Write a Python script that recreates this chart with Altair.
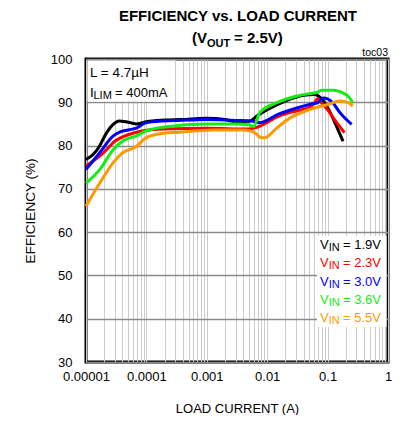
import altair as alt
import pandas as pd

# ---------------- data ----------------
series_names = ["1.9V", "2.3V", "3.0V", "3.6V", "5.5V"]
series_colors = ["#000000", "#ff0000", "#0000ff", "#11ee11", "#ff9900"]

x_19 = [1e-5, 1.7e-5, 2e-5, 3e-5, 3.5e-5, 5e-5, 7e-5, 1e-4, 2e-4, 5e-4, 1e-3, 2e-3, 3e-3, 5e-3, 7e-3, 0.01, 0.02, 0.04, 0.06, 0.08, 0.1, 0.13, 0.18]
y_19 = [76.8, 80.0, 82.0, 85.2, 85.7, 85.4, 85.0, 85.5, 85.9, 86.1, 86.3, 86.0, 85.5, 85.6, 87.0, 88.3, 90.3, 91.6, 91.8, 90.8, 88.8, 85.5, 81.0]

x_23 = [1e-5, 2e-5, 3e-5, 5e-5, 8e-5, 2e-4, 1e-3, 5e-3, 7e-3, 0.015, 0.03, 0.05, 0.06, 0.068, 0.08, 0.1, 0.13, 0.19]
y_23 = [75.3, 78.5, 81.0, 82.5, 83.3, 83.8, 84.0, 83.8, 84.3, 86.7, 88.0, 88.8, 89.8, 90.8, 89.8, 88.3, 86.0, 83.0]

x_30 = [1e-5, 1.7e-5, 2.8e-5, 3.6e-5, 5e-5, 7e-5, 9.5e-5, 2e-4, 5e-4, 1e-3, 3e-3, 5.5e-3, 7.5e-3, 0.015, 0.05, 0.07, 0.085, 0.1, 0.12, 0.16, 0.25]
y_30 = [74.5, 78.4, 82.2, 83.1, 83.6, 84.1, 85.2, 85.7, 85.9, 86.0, 85.8, 85.7, 85.3, 87.2, 89.5, 90.0, 91.0, 90.8, 90.0, 87.6, 84.9]

x_36 = [1e-5, 1.7e-5, 2.8e-5, 4e-5, 7e-5, 9.5e-5, 2e-4, 1e-3, 3e-3, 5e-3, 6e-3, 7.5e-3, 0.0145, 0.03, 0.05, 0.065, 0.08, 0.12, 0.2, 0.25, 0.26]
y_36 = [71.3, 74.5, 79.0, 81.0, 82.3, 83.3, 84.3, 85.0, 85.0, 84.8, 84.4, 87.6, 89.9, 91.4, 92.0, 92.2, 92.8, 92.8, 91.8, 90.3, 89.7]

x_55 = [1e-5, 1.7e-5, 2.8e-5, 4e-5, 7e-5, 9e-5, 1.5e-4, 3.5e-4, 1.3e-3, 4e-3, 5.5e-3, 6.2e-3, 8e-3, 9e-3, 0.0145, 0.024, 0.05, 0.1, 0.16, 0.22, 0.26]
y_55 = [66.0, 71.4, 76.0, 78.3, 79.9, 81.4, 82.6, 83.1, 83.6, 83.6, 83.3, 83.0, 81.8, 81.8, 84.1, 86.4, 88.3, 89.5, 90.3, 89.9, 89.1]

series_x = [x_19, x_23, x_30, x_36, x_55]
series_y = [y_19, y_23, y_30, y_36, y_55]

x_decades = [-5, -4, -3, -2, -1, 0]
x_tick_labels = ["0.00001", "0.0001", "0.001", "0.01", "0.1", "1"]
y_ticks = [30, 40, 50, 60, 70, 80, 90, 100]

FONT = "Liberation Sans, Arial"

# minor + major log ticks
x_grid = []
for k in x_decades[:-1]:
    for m in range(1, 10):
        x_grid.append(float(f"{m}e{k}"))
x_grid.append(1.0)

label_arr = "[" + ",".join(f"'{s}'" for s in x_tick_labels) + "]"
label_expr = (
    "abs(log(datum.value)/LN10 - round(log(datum.value)/LN10)) < 1e-6 ? "
    f"{label_arr}[round(log(datum.value)/LN10) + 5] : ''"
)

W, H = 302, 303

xscale = alt.Scale(type="log", domain=[1e-5, 1])
yscale = alt.Scale(domain=[30, 100])

x_axis = alt.Axis(
    values=x_grid, labelExpr=label_expr, grid=True, gridColor="#cccccc", gridWidth=1,
    ticks=False, domain=False, labelFont=FONT, labelFontSize=13, labelColor="black",
    labelPadding=8, labelFlush=False, labelOverlap=False,
    title="LOAD CURRENT (A)", titleFont=FONT, titleFontSize=13, titleFontWeight="normal",
    titleColor="black", titleY=46, titleBaseline="middle",
)
y_axis = alt.Axis(
    values=y_ticks, grid=True, gridColor="#8a8a8a", gridWidth=1.6,
    ticks=False, domain=False, labelFont=FONT, labelFontSize=13, labelColor="black",
    labelPadding=14,
    title="EFFICIENCY (%)", titleFont=FONT, titleFontSize=13.5, titleFontWeight="normal",
    titleColor="black", titleX=-56, titleY=H / 2, titleBaseline="middle", titleAngle=270,
)

frames = []
for name, xs, ys in zip(series_names, series_x, series_y):
    frames.append(pd.DataFrame({"current": xs, "eff": ys, "vin": name}))
df = pd.concat(frames, ignore_index=True)

dummy = pd.DataFrame({"a": [0]})

# axes carrier (invisible points) so grid is drawn
base = alt.Chart(df).mark_point(opacity=0).encode(
    x=alt.X("current:Q", scale=xscale, axis=x_axis),
    y=alt.Y("eff:Q", scale=yscale, axis=y_axis),
)

layers = [base]

# white boxes behind annotation and legend
layers.append(
    alt.Chart(dummy).mark_rect(color="white").encode(
        x=alt.value(1.5), x2=alt.value(89), y=alt.value(1.5), y2=alt.value(42.5)
    )
)
layers.append(
    alt.Chart(dummy).mark_rect(color="white").encode(
        x=alt.value(231), x2=alt.value(300.5), y=alt.value(177), y2=alt.value(268)
    )
)

for name, col in zip(series_names, series_colors):
    layers.append(
        alt.Chart(df).transform_filter(alt.datum.vin == name).mark_line(
            color=col, strokeWidth=3, interpolate="monotone"
        ).encode(
            x=alt.X("current:Q", scale=xscale),
            y=alt.Y("eff:Q", scale=yscale),
        )
    )


def txt(text, x, y, size=13, color="black", weight="normal", align="left", baseline="middle"):
    return alt.Chart(dummy).mark_text(
        text=text, font=FONT, fontSize=size, color=color, fontWeight=weight,
        align=align, baseline=baseline
    ).encode(x=alt.value(x), y=alt.value(y))


# titles
layers.append(txt("EFFICIENCY vs. LOAD CURRENT", 152, -38.5, size=15, weight="bold",
                  align="center", baseline="alphabetic"))
layers.append(txt("(V", 106, -16, size=15, weight="bold", baseline="alphabetic"))
layers.append(txt("OUT", 121, -12.5, size=11, weight="bold", baseline="alphabetic"))
layers.append(txt("= 2.5V)", 148, -16, size=15, weight="bold", baseline="alphabetic"))
layers.append(txt("toc03", W, -6, size=10.5, align="right"))

# annotation
layers.append(txt("L = 4.7\u00b5H", 4, 14, size=13.5))
layers.append(txt("I", 4, 34, size=13.5))
layers.append(txt("LIM", 7.5, 37, size=11))
layers.append(txt("= 400mA", 29, 34))

# legend
legend_y = [186, 204, 223, 241, 259]
for name, col, ly in zip(series_names, series_colors, legend_y):
    layers.append(txt("V", 234, ly, color=col))
    layers.append(txt("IN", 242.7, ly + 3, size=11, color=col))
    layers.append(txt("= " + name, 257, ly, color=col))

chart = alt.layer(*layers).properties(
    width=W, height=H,
    autosize=alt.AutoSizeParams(type="none"),
    padding={"left": 78, "top": 51, "right": 7, "bottom": 53},
).configure_view(stroke="black", strokeWidth=3)

chart.save("out.html", embed_options={"renderer": "svg", "actions": False})
